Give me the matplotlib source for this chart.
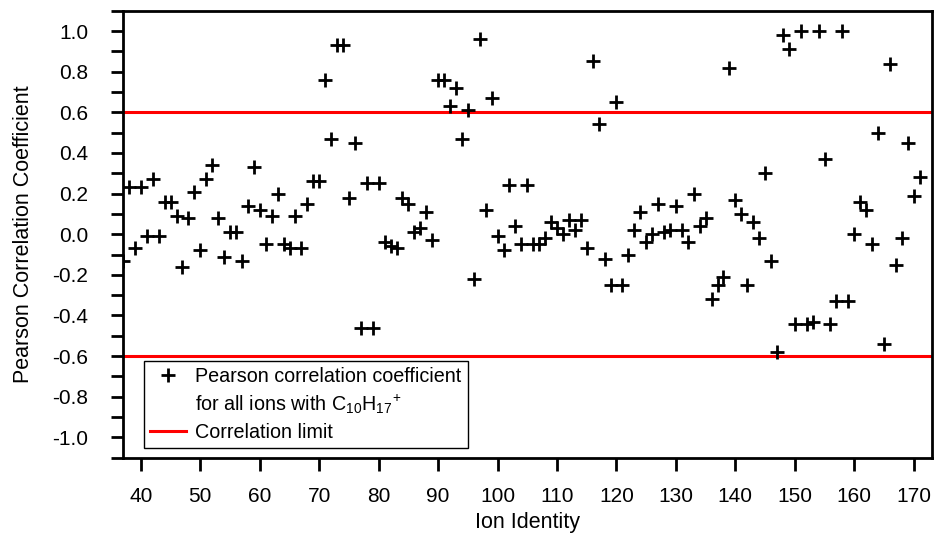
import numpy as np
import matplotlib
matplotlib.use("Agg")
import matplotlib.pyplot as plt
from matplotlib.lines import Line2D
from matplotlib.ticker import MultipleLocator, FormatStrFormatter

plt.rcParams["font.family"] = ["Liberation Sans", "DejaVu Sans"]
plt.rcParams["mathtext.fontset"] = "custom"
plt.rcParams["mathtext.rm"] = "Liberation Sans"
plt.rcParams["mathtext.it"] = "Liberation Sans:italic"
plt.rcParams["axes.unicode_minus"] = False

# Ion identities (m/z) and their Pearson correlation with C10H17+
ion_identity = list(range(37, 172))
pearson_r = [
    -0.13, 0.23, -0.07, 0.23, -0.01, 0.27, -0.01, 0.16, 0.16, 0.09,   # 37-46
    -0.16, 0.08, 0.21, -0.08, 0.27, 0.34, 0.08, -0.11, 0.01, 0.01,    # 47-56
    -0.13, 0.14, 0.33, 0.12, -0.05, 0.09, 0.20, -0.05, -0.07, 0.09,   # 57-66
    -0.07, 0.15, 0.26, 0.26, 0.76, 0.47, 0.93, 0.93, 0.18, 0.45,      # 67-76
    -0.46, 0.25, -0.46, 0.25, -0.04, -0.06, -0.07, 0.18, 0.15, 0.01,  # 77-86
    0.03, 0.11, -0.03, 0.76, 0.76, 0.63, 0.72, 0.47, 0.61, -0.22,     # 87-96
    0.96, 0.12, 0.67, -0.01, -0.08, 0.24, 0.04, -0.05, 0.24, -0.05,   # 97-106
    -0.05, -0.02, 0.06, 0.03, 0.00, 0.07, 0.02, 0.07, -0.07, 0.85,    # 107-116
    0.54, -0.12, -0.25, 0.65, -0.25, -0.10, 0.02, 0.11, -0.04, 0.00,  # 117-126
    0.15, 0.01, 0.02, 0.14, 0.02, -0.04, 0.20, 0.04, 0.08, -0.32,     # 127-136
    -0.25, -0.21, 0.82, 0.17, 0.10, -0.25, 0.06, -0.02, 0.30, -0.13,  # 137-146
    -0.58, 0.98, 0.91, -0.44, 1.00, -0.44, -0.43, 1.00, 0.37, -0.44,  # 147-156
    -0.33, 1.00, -0.33, 0.00, 0.16, 0.12, -0.05, 0.50, -0.54, 0.84,   # 157-166
    -0.15, -0.02, 0.45, 0.19, 0.28,                                   # 167-171
]
limit = 0.6

fig = plt.figure(figsize=(9.35, 5.35), dpi=100)
ax = fig.add_axes([0.1316, 0.1445, 0.8647, 0.8355])

ax.axhline(limit, color="#ff0000", lw=2.2, zorder=1)
ax.axhline(-limit, color="#ff0000", lw=2.2, zorder=1)
ax.plot(ion_identity, pearson_r, ls="none", marker="+", ms=10, mew=2.0,
        color="black", zorder=3)

ax.set_xlim(37, 173)
ax.set_ylim(-1.1, 1.1)
ax.xaxis.set_major_locator(MultipleLocator(10))
ax.yaxis.set_major_locator(MultipleLocator(0.2))
ax.yaxis.set_minor_locator(MultipleLocator(0.1))
ax.yaxis.set_major_formatter(FormatStrFormatter("%.1f"))
ax.tick_params(which="both", direction="out", length=9, width=2,
               labelsize=15, top=False, right=False)
ax.tick_params(axis="y", pad=16)
ax.tick_params(axis="x", pad=12)
for sp in ax.spines.values():
    sp.set_linewidth(2)

ax.set_xlabel("Ion Identity", fontsize=15.5)
ax.set_ylabel("Pearson Correlation Coefficient", fontsize=15.5)
ax.xaxis.set_label_coords(0.5, -0.122)
ax.yaxis.set_label_coords(-0.11, 0.5)

handles = [
    Line2D([], [], ls="none", marker="+", ms=10, mew=2.0, color="black"),
    Line2D([], [], ls="none"),
    Line2D([], [], color="#ff0000", lw=2.2),
]
labels = [
    "Pearson correlation coefficient",
    r"for all ions with C$_{10}$H$_{17}$$^{+}$",
    "Correlation limit",
]
leg = ax.legend(handles, labels, loc="lower left", bbox_to_anchor=(0.026, 0.022),
                borderaxespad=0, fontsize=14.2, frameon=True, fancybox=False,
                edgecolor="black", framealpha=1, handlelength=1.85,
                handletextpad=0.45, borderpad=0.3, labelspacing=0.35)
leg.get_frame().set_linewidth(1.0)

fig.savefig("out.png", dpi=100)
